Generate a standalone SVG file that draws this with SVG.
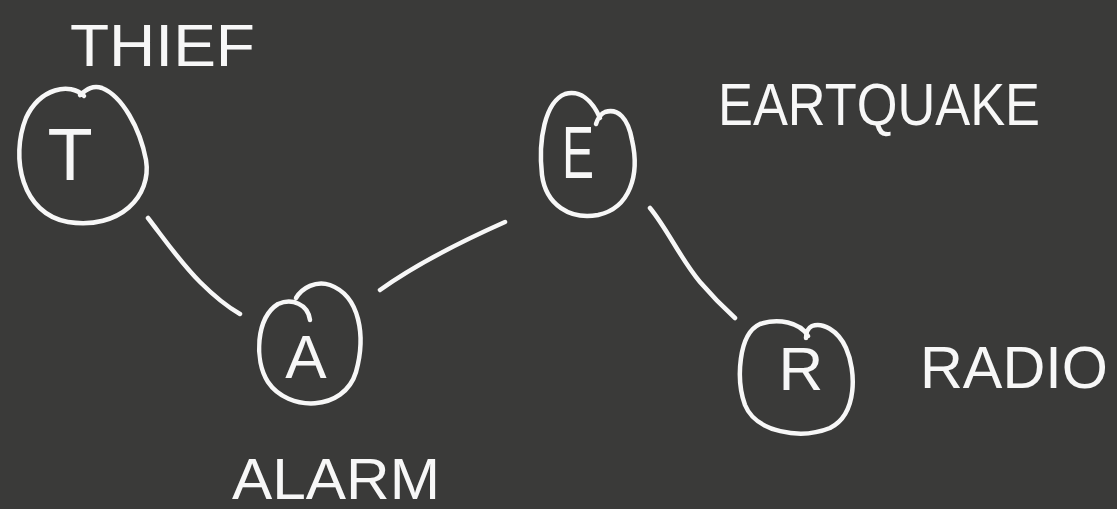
<svg xmlns="http://www.w3.org/2000/svg" width="1117" height="509" viewBox="0 0 1117 509">
  <style>
    .ink { fill: none; stroke: #f7f7f7; stroke-width: 4.5; stroke-linecap: round; stroke-linejoin: round; }
    .lbl { fill: #f7f7f7; font-family: "Liberation Sans", Arial, sans-serif; }
    .sym { fill: #f7f7f7; font-family: "Liberation Sans", Arial, sans-serif; text-anchor: middle; }
  </style>
  <rect width="1117" height="509" fill="#3a3a39"/>

  <!-- edges between the nodes -->
  <g id="connectors">
    <path class="ink" d="M148,218 C165,240 180,262 200,282 C214,296 226,306 240,314"/>
    <path class="ink" d="M380,290 C415,265 460,242 505,222"/>
    <path class="ink" d="M650,208 C668,230 680,258 700,282 C712,296 724,308 735,318"/>
  </g>

  <g id="node-thief">
    <path class="ink" d="M84,96 C70,82 40,88 26,118 C10,158 22,214 68,222 C120,230 152,196 146,160 C140,128 122,96 102,88 C93,85 87,89 80,95"/>
    <text class="sym" x="70" y="180" font-size="74">T</text>
    <text class="lbl" x="70" y="66" font-size="60" textLength="185" lengthAdjust="spacingAndGlyphs">THIEF</text>
  </g>

  <g id="node-alarm">
    <path class="ink" d="M310,320 C308,304 292,298 278,304 C256,318 254,360 268,382 C288,412 344,412 356,372 C366,336 360,296 330,285 C316,280 302,288 296,298"/>
    <text class="sym" x="306" y="378" font-size="62">A</text>
    <text class="lbl" x="232" y="499" font-size="58" textLength="208" lengthAdjust="spacingAndGlyphs">ALARM</text>
  </g>

  <g id="node-earthquake">
    <path class="ink" d="M600,118 C592,100 580,90 565,94 C545,102 538,140 542,175 C546,205 570,220 598,215 C630,208 640,175 632,140 C628,118 618,108 605,112 C600,114 598,118 596,124"/>
    <text class="sym" x="578" y="178" font-size="74" textLength="32" lengthAdjust="spacingAndGlyphs">E</text>
    <text class="lbl" x="718" y="125" font-size="60" textLength="322" lengthAdjust="spacingAndGlyphs">EARTQUAKE</text>
  </g>

  <g id="node-radio">
    <path class="ink" d="M808,336 C800,322 778,318 760,324 C738,334 736,380 745,405 C756,432 800,440 830,428 C858,414 856,370 846,348 C838,330 822,322 812,326 C808,328 806,332 806,338"/>
    <text class="sym" x="801" y="390" font-size="62">R</text>
    <text class="lbl" x="920" y="388" font-size="60" textLength="188" lengthAdjust="spacingAndGlyphs">RADIO</text>
  </g>
</svg>
